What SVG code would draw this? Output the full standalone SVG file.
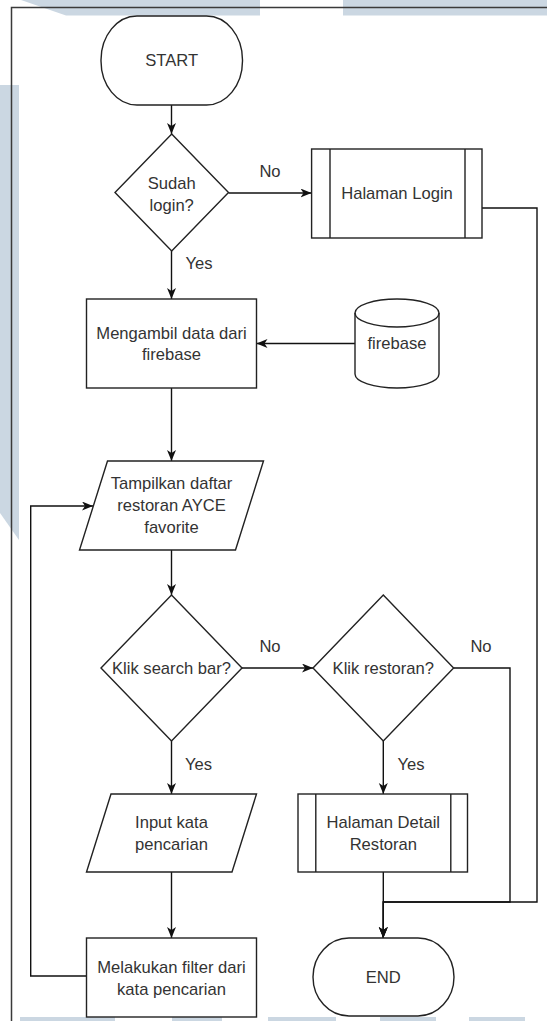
<svg xmlns="http://www.w3.org/2000/svg" width="547" height="1021" viewBox="0 0 547 1021">
  <style>
    .wm { fill: #cbd7e2; }
    .frame { fill: none; stroke: #3a3a3a; stroke-width: 1.5; }
    .shape { fill: #ffffff; stroke: #222222; stroke-width: 1.4; }
    .bar { fill: none; stroke: #222222; stroke-width: 1.4; }
    .edge { fill: none; stroke: #111111; stroke-width: 1.4; }
    .arrow { stroke: none; fill: #111111; }
    text { font-family: "Liberation Sans", Arial, sans-serif; font-size: 16.6px; fill: #333333; text-anchor: middle; }
  </style>
  <defs>
    <marker id="head" markerUnits="userSpaceOnUse" markerWidth="12" markerHeight="10" refX="11" refY="4.5" orient="auto">
      <path class="arrow" d="M0,0 L11,4.5 L0,9 L3,4.5 Z"/>
    </marker>
  </defs>

  <rect x="0" y="0" width="547" height="1021" fill="#ffffff"/>

  <!-- faint background shapes -->
  <g id="background">
    <polygon class="wm" points="21,0 260,0 260,15.5 66,15.5"/>
    <rect class="wm" x="343" y="0" width="204" height="15.5"/>
    <polygon class="wm" points="0,85 19,85 19,540 0,513"/>
    <rect class="wm" x="20" y="1017" width="95" height="4"/>
    <rect class="wm" x="172" y="1017" width="50" height="4"/>
    <rect class="wm" x="268" y="1017" width="68" height="4"/>
    <rect class="wm" x="380" y="1017" width="56" height="4"/>
    <rect class="wm" x="469" y="1017" width="56" height="4"/>
  </g>

  <!-- page frame -->
  <path class="frame" d="M11.5,1021 L11.5,7.5 L547,7.5"/>

  <g id="connectors">
    <path class="edge" d="M171.5,105 L171.5,134" marker-end="url(#head)"/>
    <path class="edge" d="M228.5,193 L311.5,193" marker-end="url(#head)"/>
    <path class="edge" d="M482,208 L537,208 L537,902 L383.3,902 L383.3,938" marker-end="url(#head)"/>
    <path class="edge" d="M171.5,251 L171.5,299" marker-end="url(#head)"/>
    <path class="edge" d="M355,343.5 L256.5,343.5" marker-end="url(#head)"/>
    <path class="edge" d="M171.5,388 L171.5,461" marker-end="url(#head)"/>
    <path class="edge" d="M171.5,550 L171.5,595" marker-end="url(#head)"/>
    <path class="edge" d="M242,668 L313,668" marker-end="url(#head)"/>
    <path class="edge" d="M171.5,741 L171.5,794" marker-end="url(#head)"/>
    <path class="edge" d="M383.3,741 L383.3,794" marker-end="url(#head)"/>
    <path class="edge" d="M453.6,668 L510,668 L510,902 L383.3,902 L383.3,938" marker-end="url(#head)"/>
    <path class="edge" d="M383.3,872 L383.3,938" marker-end="url(#head)"/>
    <path class="edge" d="M171.5,872 L171.5,938" marker-end="url(#head)"/>
    <path class="edge" d="M86.5,976 L30.7,976 L30.7,506 L93,506" marker-end="url(#head)"/>

    <text x="270" y="177">No</text>
    <text x="199" y="269">Yes</text>
    <text x="270" y="651.5">No</text>
    <text x="481" y="651.5">No</text>
    <text x="198.5" y="769.5">Yes</text>
    <text x="411" y="769.5">Yes</text>
  </g>

  <g id="start">
    <rect class="shape" x="101" y="16" width="141.5" height="89" rx="36" ry="44"/>
    <text x="171.7" y="66">START</text>
  </g>

  <g id="sudah-login">
    <polygon class="shape" points="171.7,134 228.5,192.6 171.7,251 115,192.6"/>
    <text x="171.7" y="189">Sudah</text>
    <text x="171.7" y="211">login?</text>
  </g>

  <g id="halaman-login">
    <rect class="shape" x="311.6" y="149" width="170.4" height="89"/>
    <path class="bar" d="M330,149 L330,238 M465,149 L465,238"/>
    <text x="397" y="199">Halaman Login</text>
  </g>

  <g id="mengambil-data">
    <rect class="shape" x="86.5" y="299" width="170" height="89"/>
    <text x="171.5" y="338.5">Mengambil data dari</text>
    <text x="171.5" y="360">firebase</text>
  </g>

  <g id="firebase">
    <path class="shape" d="M355,313 A42,14 0 0,1 439,313 L439,374 A42,14 0 0,1 355,374 Z"/>
    <path class="bar" d="M355,313 A42,14 0 0,0 439,313"/>
    <text x="397" y="348.5">firebase</text>
  </g>

  <g id="tampilkan-daftar">
    <polygon class="shape" points="107.5,461 263.5,461 235.5,550 79.5,550"/>
    <text x="171.5" y="489">Tampilkan daftar</text>
    <text x="171.5" y="511">restoran AYCE</text>
    <text x="171.5" y="533">favorite</text>
  </g>

  <g id="klik-search">
    <polygon class="shape" points="171.5,595 242,668 171.5,741 101,668"/>
    <text x="171.5" y="674">Klik search bar?</text>
  </g>

  <g id="klik-restoran">
    <polygon class="shape" points="383.3,595 453.6,668 383.3,741 313,668"/>
    <text x="383.3" y="674">Klik restoran?</text>
  </g>

  <g id="input-kata">
    <polygon class="shape" points="111,794 256.5,794 232,872 86.5,872"/>
    <text x="171.5" y="828">Input kata</text>
    <text x="171.5" y="850">pencarian</text>
  </g>

  <g id="halaman-detail">
    <rect class="shape" x="298" y="794" width="169.5" height="78"/>
    <path class="bar" d="M315.8,794 L315.8,872 M450.8,794 L450.8,872"/>
    <text x="383.3" y="828">Halaman Detail</text>
    <text x="383.3" y="850">Restoran</text>
  </g>

  <g id="melakukan-filter">
    <rect class="shape" x="86.5" y="938" width="170" height="79"/>
    <text x="171.5" y="972.5">Melakukan filter dari</text>
    <text x="171.5" y="994.5">kata pencarian</text>
  </g>

  <g id="end">
    <rect class="shape" x="313" y="938" width="141" height="78" rx="36" ry="39"/>
    <text x="383.3" y="983">END</text>
  </g>
</svg>
